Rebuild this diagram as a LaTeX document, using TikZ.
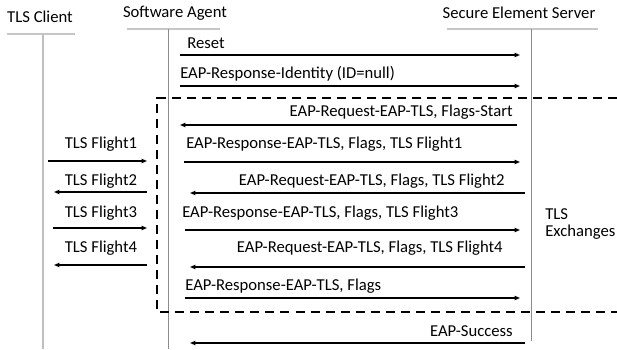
\documentclass[tikz,border=0pt]{standalone}
\usepackage{fontspec}
\setmainfont{Carlito}
\usetikzlibrary{arrows.meta}

\begin{document}
\begin{tikzpicture}[
  x=0.025cm,
  y=-0.025cm,
  font=\fontsize{11.85}{12.1}\selectfont,
  header/.style={anchor=base, inner sep=0pt},
  headrule/.style={draw=gray!45, line width=1.4pt},
  clientline/.style={draw=gray!50, line width=1.3pt},
  lifeline/.style={draw=gray!90, line width=0.7pt},
  msg/.style={-{Triangle[length=3.8pt,width=3pt]}, draw=black, line width=0.9pt},
  msglabel/.style={inner sep=0pt},
  exchange/.style={draw=black, line width=1.4pt, dash pattern=on 6.4pt off 4.3pt}
]
\useasboundingbox (0,0) rectangle (617,349);

% ---------------------------------------------------------------------------
% Participants and lifelines
% ---------------------------------------------------------------------------
\node[header] (client) at (40,22) {TLS Client};
\node[header] (agent) at (175,17) {Software Agent};
\node[header] (server) at (519,18) {Secure Element Server};

\coordinate (client-rl) at (7,34);
\coordinate (client-rr) at (75,34);
\coordinate (agent-rl) at (127,29);
\coordinate (agent-rr) at (220,29);
\coordinate (server-rl) at (447,29);
\coordinate (server-rr) at (598,29);
\draw[headrule] (client-rl) -- (client-rr);
\draw[headrule] (agent-rl) -- (agent-rr);
\draw[headrule] (server-rl) -- (server-rr);

\coordinate (client-top) at (43,34);
\coordinate (client-end) at (43,349);
\coordinate (agent-top) at (168,29);
\coordinate (agent-end) at (168,349);
\coordinate (server-top) at (531,29);
\coordinate (server-end) at (531,341);
\draw[clientline] (client-top) -- (client-end);
\draw[lifeline] (agent-top) -- (agent-end);
\draw[lifeline] (server-top) -- (server-end);

% ---------------------------------------------------------------------------
% Agent <-> server set-up
% ---------------------------------------------------------------------------
\coordinate (reset-a) at (180,55);
\coordinate (reset-b) at (520,55);
\draw[msg] (reset-a) -- (reset-b);
\node[msglabel, anchor=base west] (reset) at (187,48) {Reset};

\coordinate (ident-a) at (180,86);
\coordinate (ident-b) at (520,86);
\draw[msg] (ident-a) -- (ident-b);
\node[msglabel, anchor=base west] (ident) at (180,78) {EAP-Response-Identity (ID=null)};

% ---------------------------------------------------------------------------
% TLS exchanges (dashed frame)
% ---------------------------------------------------------------------------
\coordinate (box-tr) at (617,98);
\coordinate (box-tl) at (157,98);
\coordinate (box-bl) at (157,312);
\coordinate (box-br) at (617,312);
\draw[exchange] (box-tr) -- (box-tl) -- (box-bl) -- (box-br);
\node[msglabel, anchor=north west, align=left] (tlsx) at (545,208) {TLS\\Exchanges};

\coordinate (start-a) at (517,125);
\coordinate (start-b) at (180,125);
\draw[msg] (start-a) -- (start-b);
\node[msglabel, anchor=base east] (start) at (513,116) {EAP-Request-EAP-TLS, Flags-Start};

% flight 1
\coordinate (cf1-a) at (48,161);
\coordinate (cf1-b) at (147,161);
\draw[msg] (cf1-a) -- (cf1-b);
\node[msglabel, anchor=base] (cf1) at (101,148) {TLS Flight1};
\coordinate (sf1-a) at (184,162);
\coordinate (sf1-b) at (520,162);
\draw[msg] (sf1-a) -- (sf1-b);
\node[msglabel, anchor=base west] (sf1) at (186,148) {EAP-Response-EAP-TLS, Flags, TLS Flight1};

% flight 2
\coordinate (cf2-a) at (147,192);
\coordinate (cf2-b) at (54,192);
\draw[msg] (cf2-a) -- (cf2-b);
\node[msglabel, anchor=base] (cf2) at (101,185) {TLS Flight2};
\coordinate (sf2-a) at (525,193);
\coordinate (sf2-b) at (190,193);
\draw[msg] (sf2-a) -- (sf2-b);
\node[msglabel, anchor=base east] (sf2) at (505,185) {EAP-Request-EAP-TLS, Flags, TLS Flight2};

% flight 3
\coordinate (cf3-a) at (53,228);
\coordinate (cf3-b) at (147,228);
\draw[msg] (cf3-a) -- (cf3-b);
\node[msglabel, anchor=base] (cf3) at (101,217) {TLS Flight3};
\coordinate (sf3-a) at (185,230);
\coordinate (sf3-b) at (520,230);
\draw[msg] (sf3-a) -- (sf3-b);
\node[msglabel, anchor=base west] (sf3) at (182,217) {EAP-Response-EAP-TLS, Flags, TLS Flight3};

% flight 4
\coordinate (cf4-a) at (147,265);
\coordinate (cf4-b) at (54,265);
\draw[msg] (cf4-a) -- (cf4-b);
\node[msglabel, anchor=base] (cf4) at (101,252) {TLS Flight4};
\coordinate (sf4-a) at (525,267);
\coordinate (sf4-b) at (190,267);
\draw[msg] (sf4-a) -- (sf4-b);
\node[msglabel, anchor=base east] (sf4) at (503,252) {EAP-Request-EAP-TLS, Flags, TLS Flight4};

\coordinate (fin-a) at (185,298);
\coordinate (fin-b) at (520,298);
\draw[msg] (fin-a) -- (fin-b);
\node[msglabel, anchor=base west] (fin) at (185,290) {EAP-Response-EAP-TLS, Flags};

% ---------------------------------------------------------------------------
% Result
% ---------------------------------------------------------------------------
\coordinate (succ-a) at (525,343);
\coordinate (succ-b) at (190,343);
\draw[msg] (succ-a) -- (succ-b);
\node[msglabel, anchor=base east] (succ) at (513,336) {EAP-Success};

\end{tikzpicture}
\end{document}
